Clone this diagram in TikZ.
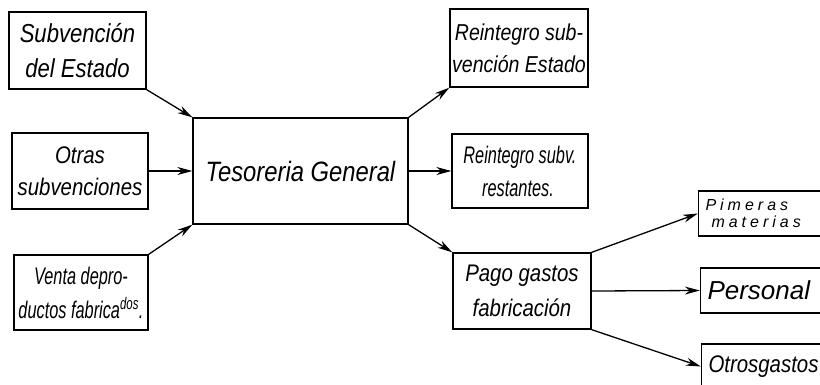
\documentclass[tikz,border=0pt]{standalone}
\usepackage{fontspec}
\setmainfont{Liberation Sans}[FakeStretch=0.85]
\newfontfamily\narrowfont{Liberation Sans}[FakeStretch=0.68]
\newfontfamily\spacedfont{Liberation Sans}[LetterSpace=25]
\newfontfamily\plainfont{Liberation Sans}
\usepackage{tikz}
\usetikzlibrary{arrows.meta,positioning}

\begin{document}
\begin{tikzpicture}[
    x=1pt, y=-1pt,
    line width=1.3pt,
    % all boxes of the scheme
    box/.style={draw, inner sep=0pt, align=center},
    % boxes on the far right, text starts at the left
    sidebox/.style={draw, inner xsep=7pt, inner ysep=0pt, text width=110pt,
      align=left, minimum height=45pt},
    flow/.style={-{Stealth[length=15pt,width=8pt]}, line width=1.3pt},
  ]
    \clip (0,0) rectangle (820,384);
    % sources
    \node[box, minimum width=137pt, minimum height=77pt,
      font=\itshape\fontsize{26}{35}\selectfont] (sub) at (77.5,50.5)
      {Subvención\\del Estado};
    \node[box, minimum width=136pt, minimum height=76pt,
      font=\itshape\fontsize{24}{32}\selectfont] (otras) at (80,171)
      {Otras\\subvenciones};
    \node[box, minimum width=134pt, minimum height=75pt,
      font=\narrowfont\itshape\fontsize{24}{34}\selectfont] (venta) at (81,292.5)
      {Venta depro-\\ductos fabrica\textsuperscript{dos}.};
    % centre
    \node[box, minimum width=215pt, minimum height=106pt,
      font=\itshape\fontsize{28}{34}\selectfont] (teso) at (300.5,171)
      {Tesoreria General};
    % uses
    \node[box, minimum width=138pt, minimum height=78pt,
      font=\itshape\fontsize{23}{32}\selectfont] (rein1) at (519,48)
      {Reintegro sub-\\vención Estado};
    \node[box, minimum width=136pt, minimum height=74pt,
      font=\narrowfont\itshape\fontsize{24}{33}\selectfont] (rein2) at (520,171)
      {Reintegro subv.\\\hspace*{10pt}restantes.\hspace*{14pt}};
    \node[box, minimum width=138pt, minimum height=76pt,
      font=\itshape\fontsize{24}{35}\selectfont] (pago) at (522,291)
      {Pago gastos\\fabricación};
    % costs
    \node[sidebox, font=\spacedfont\itshape\fontsize{16}{17}\selectfont]
      (pim) at (760.5,213.5) {Pimeras\\\hspace*{6pt}materias};
    \node[sidebox, font=\plainfont\itshape\fontsize{26}{28}\selectfont]
      (pers) at (762.5,290.5) {Personal};
    \node[sidebox, font=\itshape\fontsize{24}{28}\selectfont]
      (otros) at (763.5,366.5) {Otrosgastos};

    \draw[flow] (sub.south east) -- (teso.north west);
    \draw[flow] (otras.east) -- (teso.west);
    \draw[flow] (venta.north east) -- (teso.south west);
    \draw[flow] (teso.north east) -- (rein1.south west);
    \draw[flow] (teso.east) -- (rein2.west);
    \draw[flow] (teso.south east) -- (pago.north west);
    \draw[flow] (pago.north east) -- (pim.west);
    \draw[flow] (pago.east) -- (pers.west);
    \draw[flow] (pago.south east) -- (otros.west);
\end{tikzpicture}
\end{document}
